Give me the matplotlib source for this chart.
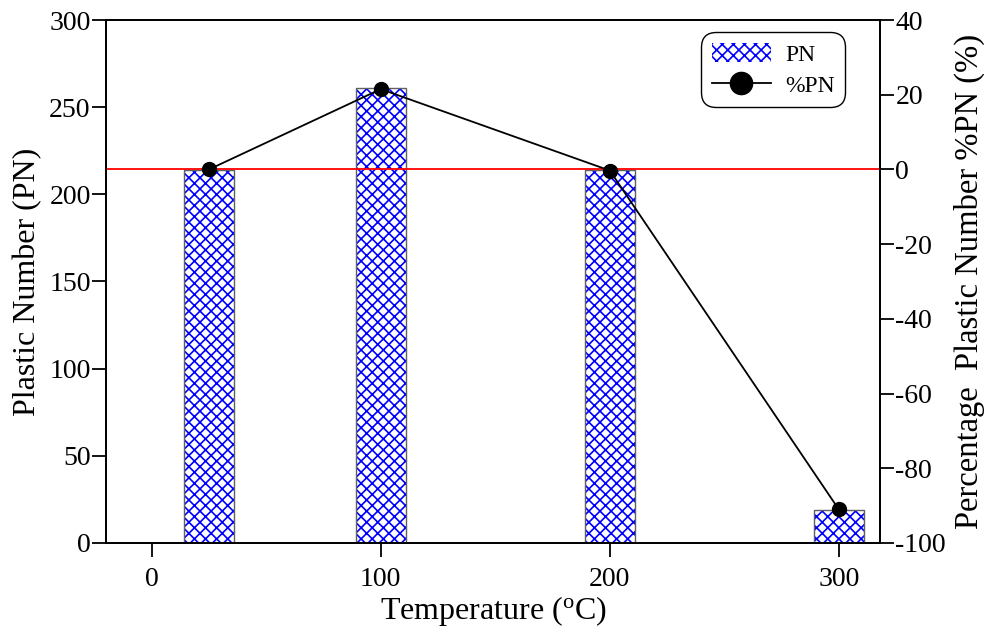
import matplotlib

matplotlib.use("Agg")

import matplotlib.pyplot as plt
from matplotlib.patches import Patch
from matplotlib.lines import Line2D

plt.rcParams["font.family"] = ["Liberation Serif", "DejaVu Serif"]
plt.rcParams["mathtext.fontset"] = "stix"
plt.rcParams["axes.unicode_minus"] = False
plt.rcParams["hatch.linewidth"] = 1.2

# data
temps = [25, 100, 200, 300]
pn = [214, 261, 214, 19]
pct_pn = [0, 21.5, -0.3, -91]
bar_width = 22

fig = plt.figure(figsize=(9.94, 6.31), dpi=100)
ax = fig.add_axes([0.1066, 0.1395, 0.7787, 0.8288])

# hatch layer (blue) and outline layer (grey)
ax.bar(temps, pn, width=bar_width, color="white", edgecolor="blue",
       hatch="xxx", linewidth=0, zorder=2)
ax.bar(temps, pn, width=bar_width, color="none", edgecolor="#606060",
       linewidth=1.0, zorder=3)

ax.set_xlim(-20, 318)
ax.set_ylim(0, 300)
ax.set_xticks([0, 100, 200, 300])
ax.set_yticks([0, 50, 100, 150, 200, 250, 300])
ax.tick_params(direction="out", length=10, width=1.3, labelsize=20)
ax.tick_params(axis="y", pad=1)
ax.tick_params(axis="x", pad=7)
ax.set_xlabel(r"Temperature ($\mathregular{^o}$C)", fontsize=23, labelpad=2)
ax.set_ylabel("Plastic Number (PN)", fontsize=23, labelpad=5)
for s in ax.spines.values():
    s.set_linewidth(1.3)

ax2 = ax.twinx()
ax2.set_ylim(-100, 40)
ax2.set_yticks([-100, -80, -60, -40, -20, 0, 20, 40])
ax2.axhline(0, color="red", linewidth=1.3, zorder=1)
ax2.plot(temps, pct_pn, color="black", linewidth=1.3, marker="o",
         markersize=10, zorder=4)
ax2.tick_params(direction="out", length=10, width=1.3, labelsize=20, pad=1)
ax2.set_ylabel("Percentage  Plastic Number %PN (%)", fontsize=23.5,
               labelpad=6)
for s in ax2.spines.values():
    s.set_linewidth(1.3)

handles = [
    Patch(facecolor="white", edgecolor="blue", hatch="xxx", linewidth=0),
    Line2D([0], [0], color="black", linewidth=1.3, marker="o", markersize=16),
]
leg = ax2.legend(handles, ["PN", "%PN"], loc="upper right",
                 bbox_to_anchor=(0.955, 0.977), borderaxespad=0,
                 fontsize=17, fancybox=True, framealpha=1,
                 edgecolor="black", handlelength=2.5, handleheight=0.9,
                 handletextpad=0.6, borderpad=0.45, labelspacing=0.35)
frame = leg.get_frame()
frame.set_linewidth(1.0)
frame.set_boxstyle("round", pad=0, rounding_size=0.65)

fig.savefig("out.png", dpi=100)
